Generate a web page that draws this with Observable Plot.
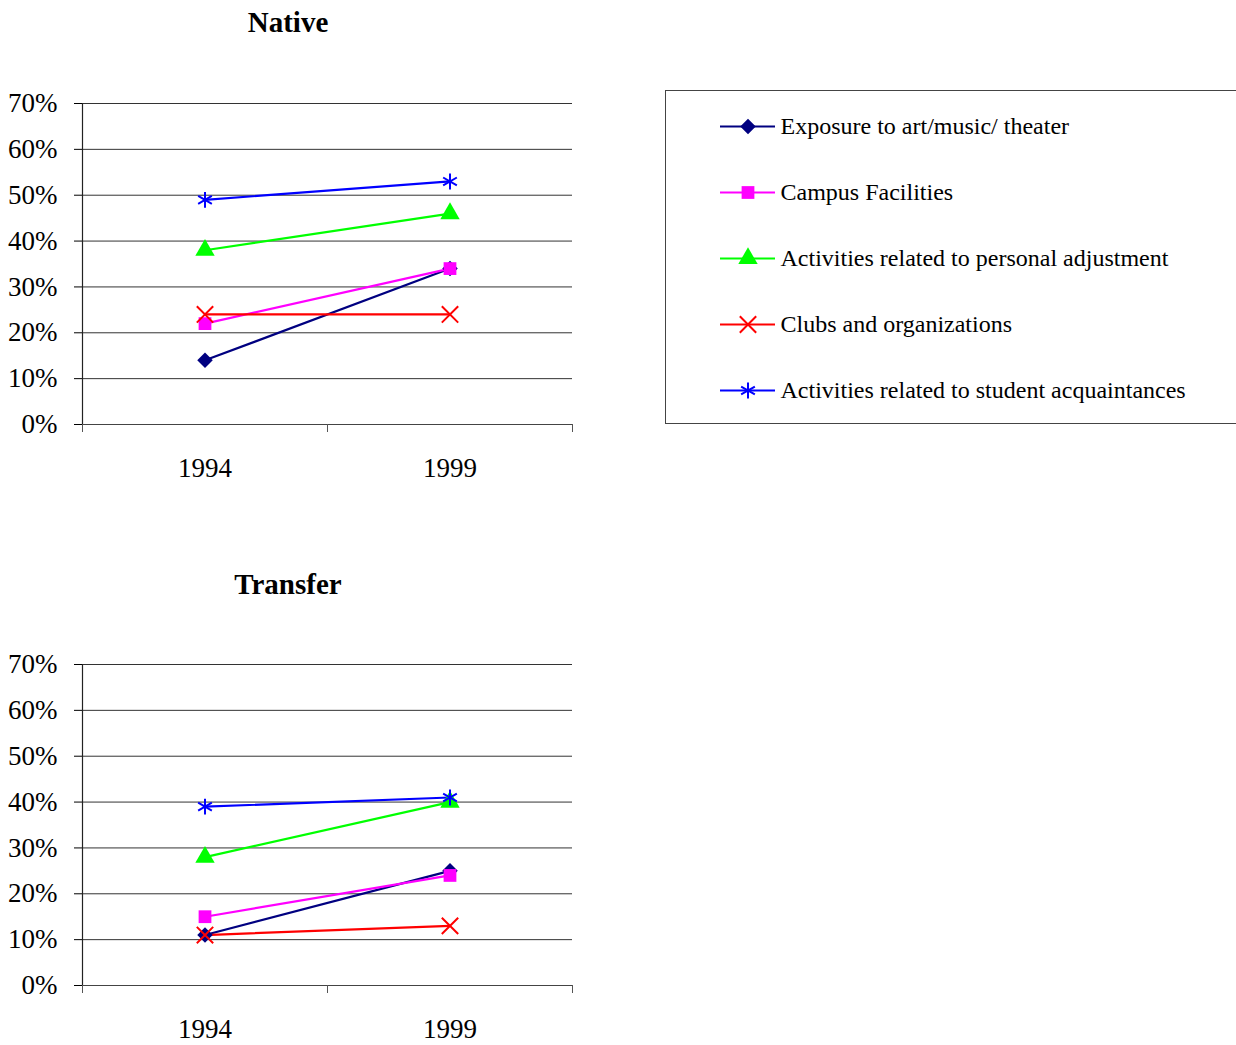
<!DOCTYPE html>
<html>
<head>
<meta charset="utf-8">
<script src="https://cdn.jsdelivr.net/npm/d3@7"></script>
<script src="https://cdn.jsdelivr.net/npm/@observablehq/plot@0.6"></script>
<style>
  body { margin: 0; background: #fff; }
  #root { position: relative; width: 1236px; height: 1045px; overflow: hidden; font-family: "Liberation Serif", "Times New Roman", serif; }
  .title { position: absolute; width: 576px; text-align: center; font-weight: bold; font-size: 29px; line-height: 32px; color: #000; }
  .panel { position: absolute; left: 0; }
  #legend { position: absolute; left: 665px; top: 90px; width: 580px; height: 334px; border: 1px solid #444; box-sizing: border-box; }
  svg text { font-family: "Liberation Serif", "Times New Roman", serif; }
</style>
</head>
<body>
<div id="root">
  <div class="title" style="left:0; top:6px;">Native</div>
  <div class="title" style="left:0; top:568px;">Transfer</div>
  <div class="panel" id="p1" style="top:60px;"></div>
  <div class="panel" id="p2" style="top:621px;"></div>
  <div id="legend"></div>
</div>
<script>
const years = ["1994", "1999"];
const seriesNames = [
  "Exposure to art/music/ theater",
  "Campus Facilities",
  "Activities related to personal adjustment",
  "Clubs and organizations",
  "Activities related to student acquaintances"
];
const seriesColors = ["#000080", "#FF00FF", "#00FF00", "#FF0000", "#0000FF"];
const seriesSymbols = ["diamond2", "square", "triangle", "times", "asterisk"];
const seriesFilled = [true, true, true, false, false];
const seriesR = [7, 7.2, 7.2, 7.5, 7.5];

// values in percent, [1994, 1999]
const nativeValues = [
  [14, 34],
  [22, 34],
  [38, 46],
  [24, 24],
  [49, 53]
];
const transferValues = [
  [11, 25],
  [15, 24],
  [28, 40],
  [11, 13],
  [39, 41]
];
const yTicks = [0, 10, 20, 30, 40, 50, 60, 70];
const FONT = "Liberation Serif, Times New Roman, serif";

function toRows(values) {
  const rows = [];
  values.forEach((vals, s) => {
    vals.forEach((v, i) => rows.push({series: seriesNames[s], s, xi: i + 0.5, year: years[i], value: v}));
  });
  return rows;
}

function panel(values) {
  const rows = toRows(values);
  const marks = [
    Plot.gridY(yTicks.filter(t => t > 0), {stroke: "#333", strokeOpacity: 1, strokeWidth: 1}),
    Plot.ruleY([0], {stroke: "#444", strokeWidth: 1}),
    Plot.ruleX([0], {y1: 0, y2: 70, stroke: "#222", strokeWidth: 1.2}),
    Plot.axisY(yTicks, {tickSize: 8, tickPadding: 17, tickFormat: d => d + "%", fontSize: 27, fontFamily: FONT, fill: "#000", stroke: "#000", label: null}),
    Plot.axisX([0, 1, 2], {tickSize: 8, tickFormat: () => "", stroke: "#555", label: null}),
    Plot.axisX([0.5, 1.5], {tickSize: 0, tickPadding: 33, tickFormat: d => years[d - 0.5], fontSize: 27, fontFamily: FONT, fill: "#000", label: null})
  ];
  seriesNames.forEach((name, s) => {
    const data = rows.filter(r => r.s === s);
    marks.push(Plot.line(data, {x: "xi", y: "value", stroke: seriesColors[s], strokeWidth: 2.2}));
  });
  seriesNames.forEach((name, s) => {
    const data = rows.filter(r => r.s === s);
    marks.push(Plot.dot(data, seriesFilled[s]
      ? {x: "xi", y: "value", symbol: () => seriesSymbols[s], fill: seriesColors[s], r: seriesR[s], stroke: "none"}
      : {x: "xi", y: "value", symbol: () => seriesSymbols[s], stroke: seriesColors[s], fill: "none", r: seriesR[s], strokeWidth: 2}));
  });
  return Plot.plot({
    width: 600,
    height: 430,
    marginLeft: 82,
    marginRight: 28,
    marginTop: 43,
    marginBottom: 66,
    x: {type: "linear", domain: [0, 2], label: null},
    y: {domain: [0, 70], label: null},
    symbol: {type: "identity"},
    style: {fontFamily: FONT, color: "#000", background: "transparent", overflow: "visible"},
    marks
  });
}

document.getElementById("p1").appendChild(panel(nativeValues));
document.getElementById("p2").appendChild(panel(transferValues));

// Legend
const legendRows = seriesNames.map((name, s) => ({name, s}));
const legendMarks = [
  Plot.tickY(legendRows, {y: "name", stroke: d => seriesColors[d.s], strokeWidth: 2.2}),
  Plot.dot(legendRows.filter(d => seriesFilled[d.s]), {y: "name", frameAnchor: "middle", symbol: d => seriesSymbols[d.s], fill: d => seriesColors[d.s], r: d => seriesR[d.s]}),
  Plot.dot(legendRows.filter(d => !seriesFilled[d.s]), {y: "name", frameAnchor: "middle", symbol: d => seriesSymbols[d.s], stroke: d => seriesColors[d.s], fill: "none", r: d => seriesR[d.s], strokeWidth: 2}),
  Plot.text(legendRows, {y: "name", text: "name", frameAnchor: "right", textAnchor: "start", dx: 5, fontSize: 24, fontFamily: FONT, fill: "#000"})
];
document.getElementById("legend").appendChild(Plot.plot({
  width: 578,
  height: 332,
  marginLeft: 54,
  marginRight: 578 - 109,
  marginTop: 0,
  marginBottom: 0,
  y: {type: "point", domain: seriesNames, range: [34, 300], padding: 0, axis: null},
  x: {axis: null},
  color: {type: "identity"},
  symbol: {type: "identity"},
  r: {type: "identity"},
  style: {fontFamily: FONT, background: "transparent", overflow: "visible"},
  marks: legendMarks
}));
</script>
</body>
</html>
